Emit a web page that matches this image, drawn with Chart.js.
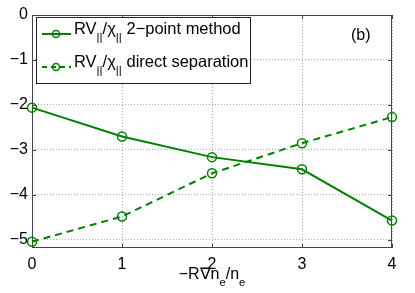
<!DOCTYPE html>
<html>
<head>
<meta charset="utf-8">
<script src="https://cdn.jsdelivr.net/npm/chart.js@4"></script>
<style>
  body { margin: 0; background: #fff; }
  #wrap { width: 415px; height: 293px; }
</style>
</head>
<body>
<div id="wrap"><canvas id="c" width="415" height="293"></canvas></div>
<script>
// data
const xValues = [0, 1, 2, 3, 4];
const twoPoint = [-2.06, -2.70, -3.16, -3.43, -4.57];
const directSep = [-5.04, -4.48, -3.52, -2.85, -2.27];
const yTicks = [-5, -4, -3, -2, -1, 0];
const xTicks = [0, 1, 2, 3, 4];

const green = '#008000';
const FONT = '"Liberation Sans", Arial, sans-serif';

function toPts(ys) {
    return xValues.map((x, i) => ({ x: x, y: ys[i] }));
}

// draws text with subscript parts: parts = [[text, isSub], ...]
function drawRich(ctx, parts, x, y, size) {
    let cx = x;
    parts.forEach(p => {
        const sz = p[1] ? size * 0.7 : size;
        ctx.font = sz + 'px ' + FONT;
        ctx.fillText(p[0], cx, p[1] ? y + size * 0.42 : y);
        cx += ctx.measureText(p[0]).width;
    });
    return cx - x;
}

function richWidth(ctx, parts, size) {
    let w = 0;
    parts.forEach(p => {
        ctx.font = (p[1] ? size * 0.7 : size) + 'px ' + FONT;
        w += ctx.measureText(p[0]).width;
    });
    return w;
}

const decor = {
    id: 'decor',
    beforeDatasetsDraw(chart) {
        const ctx = chart.ctx;
        const a = chart.chartArea;
        const xs = chart.scales.x, ys = chart.scales.y;
        ctx.save();
        // frame + inward ticks
        ctx.strokeStyle = '#444';
        ctx.lineWidth = 1;
        ctx.strokeRect(a.left + 0.5, a.top + 0.5, a.right - a.left - 1, a.bottom - a.top - 1);
        xTicks.forEach(t => {
            const px = Math.round(xs.getPixelForValue(t)) + 0.5;
            ctx.beginPath();
            ctx.moveTo(px, a.bottom); ctx.lineTo(px, a.bottom - 4);
            ctx.moveTo(px, a.top); ctx.lineTo(px, a.top + 4);
            ctx.stroke();
        });
        yTicks.forEach(t => {
            const py = Math.round(ys.getPixelForValue(t)) + 0.5;
            ctx.beginPath();
            ctx.moveTo(a.left, py); ctx.lineTo(a.left + 4, py);
            ctx.moveTo(a.right, py); ctx.lineTo(a.right - 4, py);
            ctx.stroke();
        });
        ctx.restore();
    },
    afterDraw(chart) {
        const ctx = chart.ctx;
        const a = chart.chartArea;
        ctx.save();
        // legend box
        const lx = 36, ly = 17, lw = 214, lh = 66;
        ctx.fillStyle = '#fff';
        ctx.fillRect(lx, ly, lw, lh);
        ctx.strokeStyle = '#222';
        ctx.lineWidth = 1;
        ctx.strokeRect(lx + 0.5, ly + 0.5, lw, lh);
        const rows = [
            { y: 34, dash: [], label: ' 2\u2212point method' },
            { y: 67, dash: [5, 4], label: ' direct separation' }
        ];
        rows.forEach(r => {
            ctx.strokeStyle = green;
            ctx.lineWidth = 2;
            ctx.setLineDash(r.dash);
            ctx.beginPath();
            ctx.moveTo(42, r.y); ctx.lineTo(71, r.y);
            ctx.stroke();
            ctx.setLineDash([]);
            ctx.lineWidth = 1.5;
            ctx.beginPath();
            ctx.arc(56, r.y, 3.5, 0, Math.PI * 2);
            ctx.stroke();
            ctx.fillStyle = '#000';
            ctx.textBaseline = 'alphabetic';
            ctx.textAlign = 'left';
            drawRich(ctx, [['RV', false], ['||', true], ['/\u03c7', false], ['||', true], [r.label, false]], 74, r.y, 16.5);
        });

        // panel tag
        ctx.font = '16px ' + FONT;
        ctx.fillStyle = '#000';
        ctx.fillText('(b)', 351, 40);

        // x axis title
        const parts = [['\u2212R\u2207n', false], ['e', true], ['/n', false], ['e', true]];
        const w = richWidth(ctx, parts, 16);
        drawRich(ctx, parts, (a.left + a.right) / 2 - w / 2, 279, 16);
        ctx.restore();
    }
};

new Chart(document.getElementById('c'), {
    type: 'line',
    data: {
        datasets: [
            {
                label: '2-point method',
                data: toPts(twoPoint),
                borderColor: green,
                backgroundColor: '#fff',
                borderWidth: 2,
                pointRadius: 4.5,
                pointBorderWidth: 1.5,
                pointBackgroundColor: 'rgba(0,0,0,0)',
                tension: 0,
                clip: false
            },
            {
                label: 'direct separation',
                data: toPts(directSep),
                borderColor: green,
                backgroundColor: '#fff',
                borderWidth: 2,
                borderDash: [7, 5],
                pointRadius: 4.5,
                pointBorderWidth: 1.5,
                pointBackgroundColor: 'rgba(0,0,0,0)',
                tension: 0,
                clip: false
            }
        ]
    },
    options: {
        responsive: false,
        animation: false,
        layout: { padding: { left: 0, right: 23, top: 15, bottom: 0 } },
        plugins: { legend: { display: false }, tooltip: { enabled: false } },
        scales: {
            x: {
                type: 'linear',
                min: 0, max: 4,
                afterBuildTicks: s => { s.ticks = xTicks.map(v => ({ value: v })); },
                afterFit: s => { s.height = 45; },
                grid: { color: '#aaa', drawTicks: false },
                border: { display: false, dash: [1, 2] },
                ticks: {
                    color: '#000', padding: 7,
                    font: { family: FONT, size: 16 },
                    callback: v => String(v)
                }
            },
            y: {
                min: -5.18, max: 0,
                afterBuildTicks: s => { s.ticks = yTicks.map(v => ({ value: v })); },
                afterFit: s => { s.width = 32; },
                grid: { color: '#aaa', drawTicks: false },
                border: { display: false, dash: [1, 2] },
                ticks: {
                    color: '#000', padding: 4,
                    font: { family: FONT, size: 16 },
                    callback: v => String(v).replace('-', '\u2212')
                }
            }
        }
    },
    plugins: [decor]
});
</script>
</body>
</html>
